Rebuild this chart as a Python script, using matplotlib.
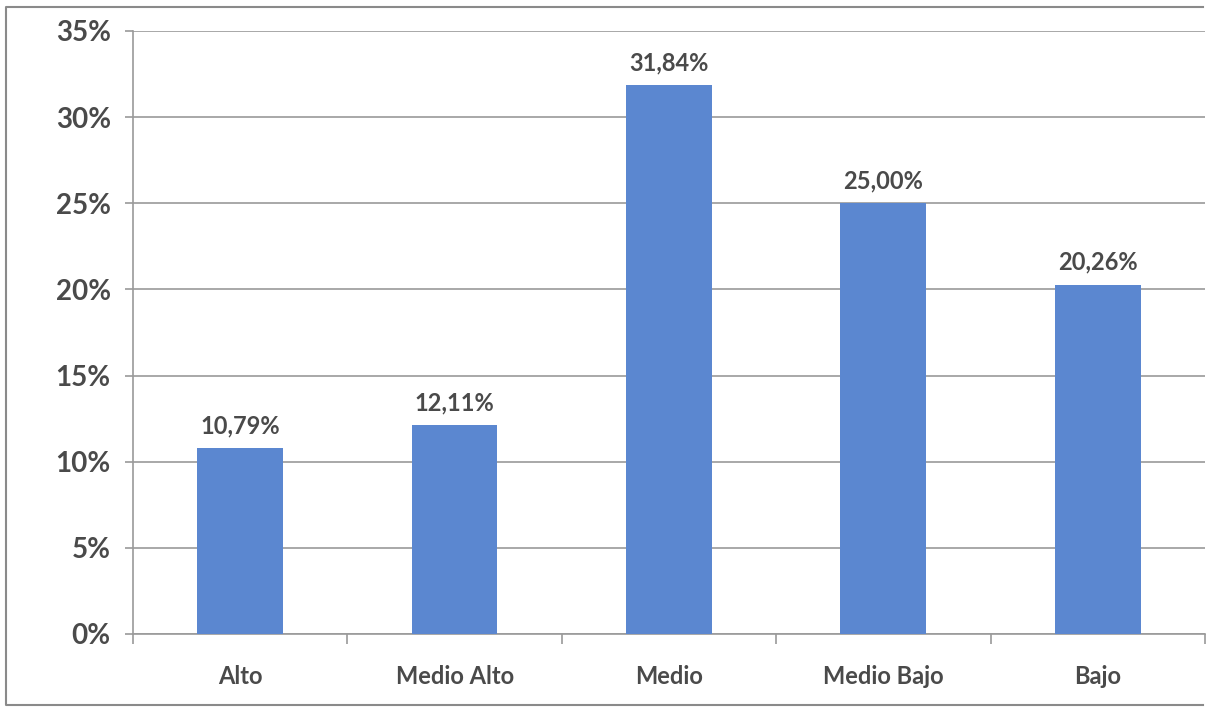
import matplotlib.pyplot as plt
from matplotlib.lines import Line2D
from matplotlib.ticker import FuncFormatter

categorias = ['Alto', 'Medio Alto', 'Medio', 'Medio Bajo', 'Bajo']
porcentajes = [10.79, 12.11, 31.84, 25.00, 20.26]
etiquetas = ['10,79%', '12,11%', '31,84%', '25,00%', '20,26%']

plt.rcParams['font.family'] = ['Lato', 'DejaVu Sans']
texto = '#4A4A4A'
barra = '#5B87D0'
linea = '#9A9A9A'

fig = plt.figure(figsize=(12.07, 7.07), dpi=100)
ax = fig.add_axes([0.1102, 0.1033, 0.8881, 0.8529])

x = list(range(len(categorias)))
barras = ax.bar(x, porcentajes, width=0.40, color=barra, zorder=3)

# etiquetas de valor encima de cada barra
for b, txt in zip(barras, etiquetas):
    ax.annotate(txt, (b.get_x() + b.get_width() / 2, b.get_height()),
                xytext=(0, 8), textcoords='offset points',
                ha='center', va='bottom', fontsize=17, fontweight='bold',
                color=texto)

ax.set_xlim(-0.5, len(categorias) - 0.5)
ax.set_ylim(0, 35)
ax.set_yticks(range(0, 36, 5))
ax.yaxis.set_major_formatter(FuncFormatter(lambda v, p: f'{v:.0f}%'))
ax.set_xticks(x)
ax.set_xticklabels(categorias)
ax.set_xticks([i - 0.5 for i in range(len(categorias) + 1)], minor=True)

ax.grid(axis='y', color=linea, linewidth=1.2, zorder=0)
for s in ['top', 'right']:
    ax.spines[s].set_visible(False)
for s in ['left', 'bottom']:
    ax.spines[s].set_color(linea)
    ax.spines[s].set_linewidth(1.2)

ax.tick_params(axis='y', length=6, width=1.2, color=linea, pad=10,
               labelsize=20, labelcolor=texto)
ax.tick_params(axis='x', which='major', length=0, pad=22,
               labelsize=17, labelcolor=texto)
ax.tick_params(axis='x', which='minor', length=7, width=1.2, color=linea)
for lbl in ax.get_xticklabels() + ax.get_yticklabels():
    lbl.set_fontweight('bold')

# marco del área del gráfico, abierto a la derecha
x0, x1, y0, y1 = 6 / 1207, 0.997, 2 / 707, 1 - 7 / 707
fig.add_artist(Line2D([x1, x0, x0, x1], [y1, y1, y0, y0],
                      transform=fig.transFigure, color='#8A8A8A',
                      linewidth=1.5))

fig.savefig('out.png', dpi=100, facecolor='white')
